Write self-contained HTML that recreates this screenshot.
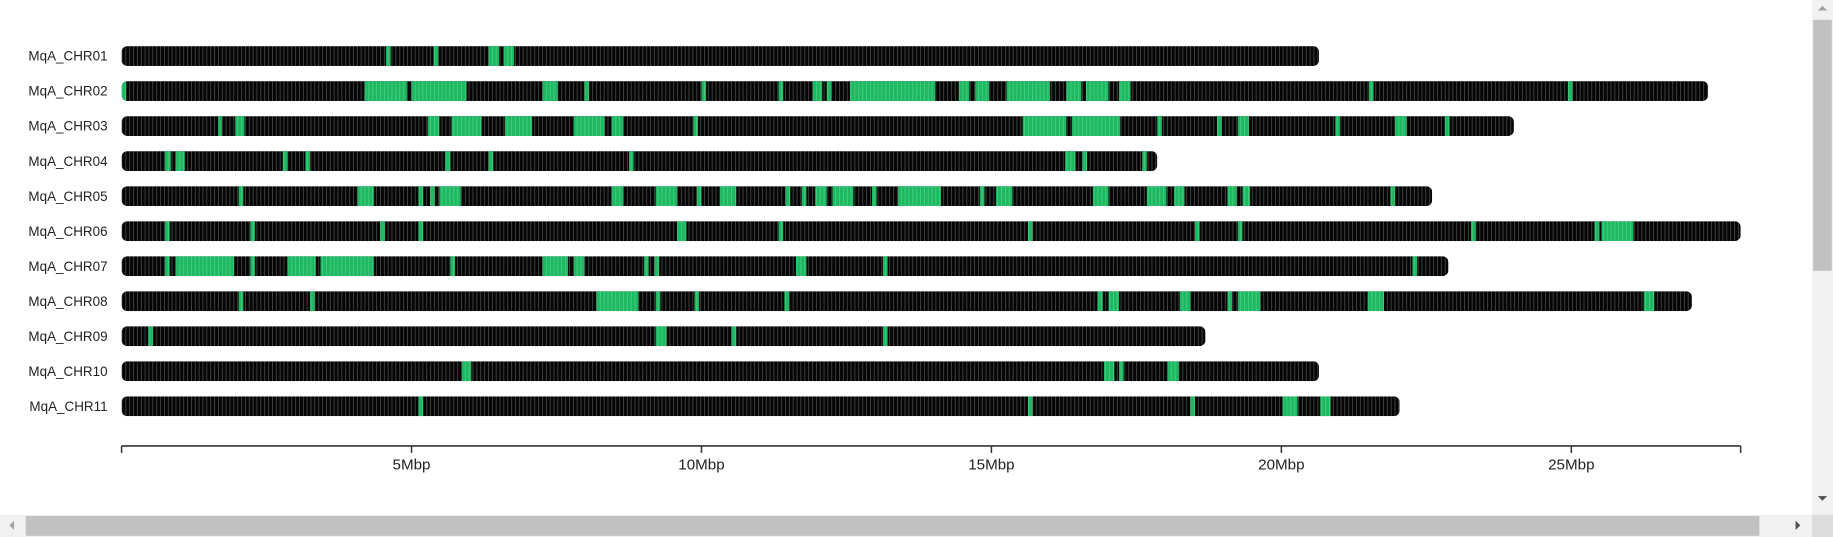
<!DOCTYPE html>
<html><head><meta charset="utf-8">
<style>
html,body{margin:0;padding:0;background:#fff;overflow:hidden;}
svg{display:block;font-family:"Liberation Sans",sans-serif;}
</style></head>
<body>
<svg id="chart" width="1833" height="537" viewBox="0 0 1568 460" preserveAspectRatio="none" xmlns="http://www.w3.org/2000/svg">
<defs>
<pattern id="bins" patternUnits="userSpaceOnUse" width="3.3" height="20" x="104">
<rect width="3.3" height="20" fill="#050505"/>
<rect x="0" width="0.6" height="20" fill="#555"/>
</pattern>
<pattern id="gbins" patternUnits="userSpaceOnUse" width="3.3" height="20" x="104">
<rect width="3.3" height="20" fill="#1db861"/>
<rect x="0" width="0.6" height="20" fill="#4fd48a"/>
</pattern>
</defs>
<g id="plot"></g>
<g id="axis"></g>
<g>
<rect x="1550" y="0" width="18" height="441" fill="#f1f1f1"/>
<rect x="1551" y="17" width="16" height="215" fill="#c1c1c1"/>
<path d="M1555 9 L1559 5 L1563 9 Z" fill="#a3a3a3"/>
<path d="M1555 425 L1559 429 L1563 425 Z" fill="#505050"/>
</g>
<g>
<rect x="0" y="441" width="1568" height="19" fill="#f1f1f1"/>
<rect x="22" y="442" width="1483" height="17" fill="#c1c1c1"/>
<path d="M12 446 L8 450 L12 454 Z" fill="#a3a3a3"/>
<path d="M1536 446 L1540 450 L1536 454 Z" fill="#505050"/>
<rect x="1550" y="441" width="18" height="19" fill="#dcdcdc"/>
</g>
</svg>
<script>
const chromNames = ["MqA_CHR01","MqA_CHR02","MqA_CHR03","MqA_CHR04","MqA_CHR05","MqA_CHR06","MqA_CHR07","MqA_CHR08","MqA_CHR09","MqA_CHR10","MqA_CHR11"];
const chromLengths = [20.65,27.36,24.01,17.86,22.60,27.92,22.88,27.08,18.69,20.65,22.04];
const regions = [
 [[4.56,4.64],[5.38,5.46],[6.33,6.51],[6.59,6.77]],
 [[0,0.08],[4.19,4.92],[5.0,5.95],[7.26,7.52],[7.98,8.06],[10.0,10.08],[11.33,11.41],[11.92,12.08],[12.16,12.24],[12.56,14.03],[14.44,14.62],[14.72,14.96],[15.26,16.01],[16.29,16.55],[16.63,17.02],[17.2,17.4],[21.51,21.59],[24.94,25.02]],
 [[1.67,1.73],[1.96,2.12],[5.28,5.48],[5.69,6.21],[6.61,7.08],[7.8,8.33],[8.45,8.65],[9.86,9.94],[15.54,16.29],[16.39,17.22],[17.86,17.94],[18.89,18.97],[19.25,19.44],[20.93,21.01],[21.96,22.16],[22.82,22.9]],
 [[0.75,0.85],[0.93,1.09],[2.78,2.86],[3.17,3.25],[5.58,5.67],[6.33,6.41],[8.75,8.83],[16.27,16.45],[16.57,16.65],[17.6,17.68]],
 [[2.02,2.1],[4.07,4.35],[5.12,5.2],[5.32,5.4],[5.48,5.85],[8.45,8.65],[9.21,9.58],[9.92,10.0],[10.32,10.6],[11.45,11.53],[11.73,11.81],[11.96,12.16],[12.26,12.62],[12.94,13.02],[13.39,14.13],[14.8,14.88],[15.08,15.36],[16.75,17.02],[17.68,18.02],[18.15,18.33],[19.07,19.23],[19.33,19.46],[21.88,21.96]],
 [[0.75,0.83],[2.22,2.3],[4.46,4.54],[5.12,5.2],[9.58,9.74],[11.33,11.41],[15.63,15.71],[18.51,18.59],[19.25,19.33],[23.27,23.35],[25.4,25.48],[25.52,26.07]],
 [[0.75,0.83],[0.93,1.94],[2.22,2.3],[2.86,3.35],[3.43,4.35],[5.67,5.75],[7.26,7.7],[7.8,7.98],[9.01,9.09],[9.19,9.27],[11.63,11.81],[13.13,13.21],[22.26,22.34]],
 [[2.02,2.1],[3.25,3.33],[8.19,8.91],[9.21,9.29],[9.88,9.96],[11.43,11.51],[16.83,16.92],[17.02,17.2],[18.25,18.43],[19.07,19.15],[19.25,19.64],[21.49,21.77],[26.25,26.43]],
 [[0.46,0.54],[9.21,9.4],[10.52,10.6],[13.13,13.21]],
 [[5.87,6.03],[16.94,17.12],[17.2,17.28],[18.04,18.23]],
 [[5.12,5.2],[15.63,15.71],[18.43,18.51],[20.02,20.28],[20.67,20.85]]
];
const tickValues = [0,5,10,15,20,25];
const tickLabels = ["","5Mbp","10Mbp","15Mbp","20Mbp","25Mbp"];
const axisMax = 27.92;

const NS="http://www.w3.org/2000/svg";
const x0=104, x1=1489;
const xScale = v => x0 + (v/axisMax)*(x1-x0);
const yRow = i => 48 + i*30;
const BH=17;
function mk(tag, attrs, parent){const e=document.createElementNS(NS,tag);for(const k in attrs)e.setAttribute(k,attrs[k]);parent.appendChild(e);return e;}
const plot=document.getElementById('plot');
const defs=document.querySelector('defs');
chromNames.forEach((name,i)=>{
  const y=yRow(i)-BH/2;
  const w=xScale(chromLengths[i])-x0;
  const cp=mk('clipPath',{id:'cp'+i},defs);
  mk('rect',{x:x0,y:y,width:w,height:BH,rx:5,ry:5},cp);
  const g=mk('g',{'clip-path':'url(#cp'+i+')'},plot);
  
  
  const bg=mk('rect',{x:x0,y:y,width:w,height:BH,fill:'url(#bins)'},g);
  
  
  regions[i].forEach(r=>{
    const rr=mk('rect',{x:xScale(r[0]),y:y,width:Math.max(xScale(r[1])-xScale(r[0]),2),height:BH,fill:'url(#gbins)'},g);
    
    
  });
  const t=mk('text',{x:92,y:yRow(i)+4,'text-anchor':'end','font-size':11.5,fill:'#222'},plot);
  t.textContent=name;
  
  
});
const ax=document.getElementById('axis');
const line=mk('line',{x1:x0,x2:x1,y1:382,y2:382,stroke:'#333','stroke-width':1.3},ax);


tickValues.forEach((v,i)=>{
  const tk=mk('line',{x1:xScale(v),x2:xScale(v),y1:382,y2:388,stroke:'#333','stroke-width':1.3},ax);
  
  
  if(tickLabels[i]){
    const t=mk('text',{x:xScale(v),y:402,'text-anchor':'middle','font-size':13,fill:'#222'},ax);
    t.textContent=tickLabels[i];
    
    
  }
});
const endTick=mk('line',{x1:x1,x2:x1,y1:382,y2:388,stroke:'#333','stroke-width':1.3},ax);


</script>
</body></html>
